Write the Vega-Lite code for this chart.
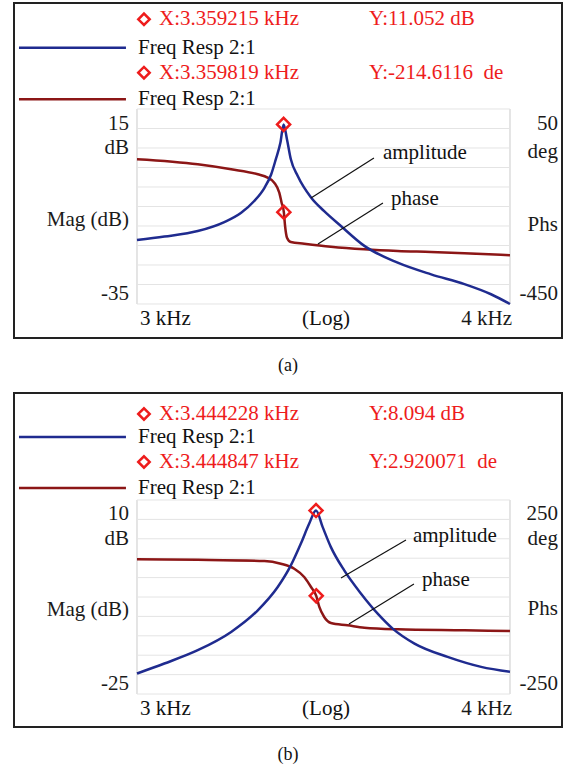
{
  "$schema": "https://vega.github.io/schema/vega-lite/v6.json",
  "padding": {"left": 13, "top": 2, "right": 0, "bottom": 0},
  "spacing": 16,
  "config": {
    "view": {"stroke": "#222", "strokeWidth": 2},
    "axis": {"disable": true},
    "text": {"font": "Liberation Serif, Times New Roman, serif", "fontSize": 21, "baseline": "middle"},
    "title": {"font": "Liberation Serif, Times New Roman, serif", "fontSize": 18, "fontWeight": "normal", "color": "#111", "orient": "bottom", "baseline": "middle", "offset": 19, "anchor": "middle"}
  },
  "datasets": {
    "ampA": [
      {"f": 3000, "v": -18.6}, {"f": 3064, "v": -17.7}, {"f": 3144, "v": -16.3}, {"f": 3209, "v": -14.0},
      {"f": 3251, "v": -11.6}, {"f": 3284, "v": -8.6}, {"f": 3310, "v": -5.2}, {"f": 3327, "v": -1.8},
      {"f": 3339, "v": 2.1}, {"f": 3351, "v": 6.4}, {"f": 3359.2, "v": 11.05}, {"f": 3368, "v": 7.2},
      {"f": 3378, "v": 2.1}, {"f": 3396, "v": -2.2}, {"f": 3431, "v": -7.7}, {"f": 3466, "v": -11.2},
      {"f": 3511, "v": -15.0}, {"f": 3575, "v": -20.1}, {"f": 3668, "v": -24.4}, {"f": 3764, "v": -27.4},
      {"f": 3862, "v": -29.9}, {"f": 3942, "v": -32.5}, {"f": 4000, "v": -35.0}
    ],
    "phA": [
      {"f": 3000, "p": -79}, {"f": 3144, "p": -91.9}, {"f": 3226, "p": -104.7}, {"f": 3293, "p": -117.5},
      {"f": 3318, "p": -126.1}, {"f": 3335, "p": -138.9}, {"f": 3348, "p": -164.6}, {"f": 3354, "p": -190.2},
      {"f": 3359.8, "p": -214.6}, {"f": 3363, "p": -250}, {"f": 3368, "p": -280}, {"f": 3378, "p": -291},
      {"f": 3413, "p": -295.3}, {"f": 3484, "p": -303}, {"f": 3575, "p": -309.7}, {"f": 3668, "p": -314.1},
      {"f": 3764, "p": -316.7}, {"f": 3862, "p": -320}, {"f": 4000, "p": -325.1}
    ],
    "ampB": [
      {"f": 3000, "v": -21.3}, {"f": 3064, "v": -19.5}, {"f": 3144, "v": -17.1}, {"f": 3226, "v": -13.8},
      {"f": 3293, "v": -9.9}, {"f": 3344, "v": -5.7}, {"f": 3378, "v": -1.8}, {"f": 3404, "v": 2.1},
      {"f": 3426, "v": 5.7}, {"f": 3444.2, "v": 8.094}, {"f": 3462, "v": 5.1}, {"f": 3484, "v": 1.5},
      {"f": 3520, "v": -2.7}, {"f": 3566, "v": -6.9}, {"f": 3612, "v": -10.5}, {"f": 3654, "v": -13.2},
      {"f": 3716, "v": -15.9}, {"f": 3812, "v": -18.3}, {"f": 3912, "v": -20.1}, {"f": 4000, "v": -21.0}
    ],
    "phB": [
      {"f": 3000, "p": 97.1}, {"f": 3144, "p": 96}, {"f": 3310, "p": 92.8}, {"f": 3352, "p": 85.9},
      {"f": 3387, "p": 73.0}, {"f": 3413, "p": 51.6}, {"f": 3431, "p": 25.8}, {"f": 3444.8, "p": 2.92},
      {"f": 3453, "p": -25.7}, {"f": 3466, "p": -51.5}, {"f": 3484, "p": -67}, {"f": 3529, "p": -72.9},
      {"f": 3575, "p": -79.1}, {"f": 3668, "p": -83.3}, {"f": 3862, "p": -85.8}, {"f": 4000, "p": -87.6}
    ],
    "gridA": [{"v": 15}, {"v": 10}, {"v": 5}, {"v": 0}, {"v": -5}, {"v": -10}, {"v": -15}, {"v": -20}, {"v": -25}, {"v": -30}, {"v": -35}],
    "gridB": [{"v": 10}, {"v": 6.5}, {"v": 3}, {"v": -0.5}, {"v": -4}, {"v": -7.5}, {"v": -11}, {"v": -14.5}, {"v": -18}, {"v": -21.5}, {"v": -25}],
    "markAmpA": [{"f": 3359.215, "v": 11.052}],
    "markPhA": [{"f": 3359.819, "p": -214.6116}],
    "markAmpB": [{"f": 3444.228, "v": 8.094}],
    "markPhB": [{"f": 3444.847, "p": 2.920071}],
    "leadA": [{"f1": 3601.6, "v1": 2.44, "f2": 3430.9, "v2": -7.82}, {"f1": 3626.7, "v1": -9.10, "f2": 3449.4, "v2": -19.61}],
    "leadB": [{"f1": 3691.7, "v1": 2.78, "f2": 3511.2, "v2": -4.07}, {"f1": 3714.5, "v1": -5.15, "f2": 3532.9, "v2": -12.37}],
    "legBlueA": [{"f1": 2739, "f2": 2974.6, "v": 30.72}],
    "legRedA": [{"f1": 2739, "f2": 2974.6, "v": 17.49}],
    "legBlueB": [{"f1": 2739, "f2": 2974.6, "v": 21.37}],
    "legRedB": [{"f1": 2739, "f2": 2974.6, "v": 12.16}],
    "hdrDiaA": [{"f": 3016.2, "v": 38.0}, {"f": 3016.2, "v": 24.31}],
    "hdrDiaB": [{"f": 3016.2, "v": 25.52}, {"f": 3016.2, "v": 16.86}],
    "redA": [
      {"t": "X:3.359215 kHz", "f": 3051.3, "v": 38.0},
      {"t": "Y:11.052 dB", "f": 3587.8, "v": 38.0},
      {"t": "X:3.359819 kHz", "f": 3051.3, "v": 24.31},
      {"t": "Y:-214.6116\u00a0 de", "f": 3587.8, "v": 24.31}
    ],
    "redB": [
      {"t": "X:3.444228 kHz", "f": 3051.3, "v": 25.52},
      {"t": "Y:8.094 dB", "f": 3587.8, "v": 25.52},
      {"t": "X:3.444847 kHz", "f": 3051.3, "v": 16.86},
      {"t": "Y:2.920071\u00a0 de", "f": 3587.8, "v": 16.86}
    ],
    "leftA": [
      {"t": "Freq Resp 2:1", "f": 3002.3, "v": 30.72},
      {"t": "Freq Resp 2:1", "f": 3002.3, "v": 17.49},
      {"t": "3 kHz", "f": 3006.9, "v": -38.84},
      {"t": "amplitude", "f": 3626.7, "v": 3.72},
      {"t": "phase", "f": 3649.3, "v": -8.08}
    ],
    "leftB": [
      {"t": "Freq Resp 2:1", "f": 3002.3, "v": 21.37},
      {"t": "Freq Resp 2:1", "f": 3002.3, "v": 12.16},
      {"t": "3 kHz", "f": 3006.9, "v": -27.71},
      {"t": "amplitude", "f": 3711.6, "v": 3.51},
      {"t": "phase", "f": 3737.5, "v": -4.43}
    ],
    "rightA": [
      {"t": "15", "f": 2981.5, "v": 11.15},
      {"t": "dB", "f": 2981.5, "v": 5.0},
      {"t": "Mag (dB)", "f": 2981.5, "v": -13.46},
      {"t": "-35", "f": 2981.5, "v": -32.43},
      {"t": "50", "f": 4150.8, "v": 11.15},
      {"t": "deg", "f": 4150.8, "v": 3.97},
      {"t": "Phs", "f": 4150.8, "v": -14.74},
      {"t": "-450", "f": 4150.8, "v": -32.43},
      {"t": "4 kHz", "f": 4006.2, "v": -38.84}
    ],
    "rightB": [
      {"t": "10", "f": 2981.5, "v": 7.47},
      {"t": "dB", "f": 2981.5, "v": 2.96},
      {"t": "Mag (dB)", "f": 2981.5, "v": -9.85},
      {"t": "-25", "f": 2981.5, "v": -23.2},
      {"t": "250", "f": 4150.8, "v": 7.47},
      {"t": "deg", "f": 4150.8, "v": 2.96},
      {"t": "Phs", "f": 4150.8, "v": -9.66},
      {"t": "-250", "f": 4150.8, "v": -23.2},
      {"t": "4 kHz", "f": 4006.2, "v": -27.71}
    ],
    "midA": [{"t": "(Log)", "f": 3470.8, "v": -38.84}],
    "midB": [{"t": "(Log)", "f": 3470.8, "v": -27.71}]
  },
  "vconcat": [
    {
      "width": 548, "height": 335,
      "title": {"text": "(a)"},
      "resolve": {"scale": {"y": "independent"}},
      "layer": [
        {
          "layer": [
            {
              "data": {"name": "gridA"},
              "mark": {"type": "rule", "color": "#e4e4e4", "strokeWidth": 1},
              "encoding": {
                "x": {"datum": 3000, "type": "quantitative", "scale": {"type": "log", "domain": [2728.5, 4163.8], "nice": false}},
                "x2": {"datum": 4000},
                "y": {"field": "v", "type": "quantitative", "scale": {"domain": [-43.72, 42.18], "nice": false, "zero": false}}
              }
            },
            {
              "data": {"name": "gridA"},
              "mark": {"type": "rule", "color": "#e4e4e4", "strokeWidth": 1},
              "encoding": {
                "x": {"datum": 3000, "type": "quantitative", "scale": {"type": "log", "domain": [2728.5, 4163.8], "nice": false}},
                "y": {"datum": 15, "type": "quantitative", "scale": {"domain": [-43.72, 42.18], "nice": false, "zero": false}},
                "y2": {"datum": -35}
              }
            },
            {
              "data": {"name": "gridA"},
              "mark": {"type": "rule", "color": "#e4e4e4", "strokeWidth": 1},
              "encoding": {
                "x": {"datum": 4000, "type": "quantitative", "scale": {"type": "log", "domain": [2728.5, 4163.8], "nice": false}},
                "y": {"datum": 15, "type": "quantitative", "scale": {"domain": [-43.72, 42.18], "nice": false, "zero": false}},
                "y2": {"datum": -35}
              }
            }
          ]
        },
        {
          "layer": [
            {
              "data": {"name": "phA"},
              "mark": {"type": "line", "color": "#8c1616", "strokeWidth": 2.5, "interpolate": "monotone"},
              "encoding": {
                "x": {"field": "f", "type": "quantitative", "scale": {"type": "log", "domain": [2728.5, 4163.8], "nice": false}},
                "y": {"field": "p", "type": "quantitative", "scale": {"domain": [-537.2, 321.8], "nice": false, "zero": false}}
              }
            },
            {
              "data": {"name": "markPhA"},
              "mark": {"type": "point", "shape": "diamond", "filled": false, "color": "#ee1c1c", "strokeWidth": 2.5, "size": 170, "opacity": 1},
              "encoding": {
                "x": {"field": "f", "type": "quantitative", "scale": {"type": "log", "domain": [2728.5, 4163.8], "nice": false}},
                "y": {"field": "p", "type": "quantitative", "scale": {"domain": [-537.2, 321.8], "nice": false, "zero": false}}
              }
            }
          ]
        },
        {
          "encoding": {
            "x": {"field": "f", "type": "quantitative", "scale": {"type": "log", "domain": [2728.5, 4163.8], "nice": false}},
            "y": {"field": "v", "type": "quantitative", "scale": {"domain": [-43.72, 42.18], "nice": false, "zero": false}}
          },
          "layer": [
            {"data": {"name": "ampA"}, "mark": {"type": "line", "color": "#1f2b8f", "strokeWidth": 2.5, "interpolate": "monotone"}},
            {"data": {"name": "markAmpA"}, "mark": {"type": "point", "shape": "diamond", "filled": false, "color": "#ee1c1c", "strokeWidth": 2.5, "size": 170, "opacity": 1}},
            {"data": {"name": "hdrDiaA"}, "mark": {"type": "point", "shape": "diamond", "filled": false, "color": "#ee1c1c", "strokeWidth": 2.5, "size": 130, "opacity": 1}},
            {
              "data": {"name": "leadA"},
              "mark": {"type": "rule", "color": "#111", "strokeWidth": 1.2},
              "encoding": {"x": {"field": "f1", "type": "quantitative"}, "x2": {"field": "f2"}, "y": {"field": "v1", "type": "quantitative"}, "y2": {"field": "v2"}}
            },
            {
              "data": {"name": "legBlueA"},
              "mark": {"type": "rule", "color": "#1f2b8f", "strokeWidth": 2.5},
              "encoding": {"x": {"field": "f1", "type": "quantitative"}, "x2": {"field": "f2"}}
            },
            {
              "data": {"name": "legRedA"},
              "mark": {"type": "rule", "color": "#8c1616", "strokeWidth": 2.5},
              "encoding": {"x": {"field": "f1", "type": "quantitative"}, "x2": {"field": "f2"}}
            },
            {"data": {"name": "redA"}, "mark": {"type": "text", "align": "left", "color": "#ee1c1c"}, "encoding": {"text": {"field": "t"}}},
            {"data": {"name": "leftA"}, "mark": {"type": "text", "align": "left", "color": "#111"}, "encoding": {"text": {"field": "t"}}},
            {"data": {"name": "rightA"}, "mark": {"type": "text", "align": "right", "color": "#1a1a1a"}, "encoding": {"text": {"field": "t"}}},
            {"data": {"name": "midA"}, "mark": {"type": "text", "align": "center", "color": "#111"}, "encoding": {"text": {"field": "t"}}}
          ]
        }
      ]
    },
    {
      "width": 548, "height": 334,
      "title": {"text": "(b)"},
      "resolve": {"scale": {"y": "independent"}},
      "layer": [
        {
          "layer": [
            {
              "data": {"name": "gridB"},
              "mark": {"type": "rule", "color": "#e4e4e4", "strokeWidth": 1},
              "encoding": {
                "x": {"datum": 3000, "type": "quantitative", "scale": {"type": "log", "domain": [2728.5, 4163.8], "nice": false}},
                "x2": {"datum": 4000},
                "y": {"field": "v", "type": "quantitative", "scale": {"domain": [-30.95, 29.30], "nice": false, "zero": false}}
              }
            },
            {
              "data": {"name": "gridB"},
              "mark": {"type": "rule", "color": "#e4e4e4", "strokeWidth": 1},
              "encoding": {
                "x": {"datum": 3000, "type": "quantitative", "scale": {"type": "log", "domain": [2728.5, 4163.8], "nice": false}},
                "y": {"datum": 10, "type": "quantitative", "scale": {"domain": [-30.95, 29.30], "nice": false, "zero": false}},
                "y2": {"datum": -25}
              }
            },
            {
              "data": {"name": "gridB"},
              "mark": {"type": "rule", "color": "#e4e4e4", "strokeWidth": 1},
              "encoding": {
                "x": {"datum": 4000, "type": "quantitative", "scale": {"type": "log", "domain": [2728.5, 4163.8], "nice": false}},
                "y": {"datum": 10, "type": "quantitative", "scale": {"domain": [-30.95, 29.30], "nice": false, "zero": false}},
                "y2": {"datum": -25}
              }
            }
          ]
        },
        {
          "layer": [
            {
              "data": {"name": "phB"},
              "mark": {"type": "line", "color": "#8c1616", "strokeWidth": 2.5, "interpolate": "monotone"},
              "encoding": {
                "x": {"field": "f", "type": "quantitative", "scale": {"type": "log", "domain": [2728.5, 4163.8], "nice": false}},
                "y": {"field": "p", "type": "quantitative", "scale": {"domain": [-335.05, 525.8], "nice": false, "zero": false}}
              }
            },
            {
              "data": {"name": "markPhB"},
              "mark": {"type": "point", "shape": "diamond", "filled": false, "color": "#ee1c1c", "strokeWidth": 2.5, "size": 170, "opacity": 1},
              "encoding": {
                "x": {"field": "f", "type": "quantitative", "scale": {"type": "log", "domain": [2728.5, 4163.8], "nice": false}},
                "y": {"field": "p", "type": "quantitative", "scale": {"domain": [-335.05, 525.8], "nice": false, "zero": false}}
              }
            }
          ]
        },
        {
          "encoding": {
            "x": {"field": "f", "type": "quantitative", "scale": {"type": "log", "domain": [2728.5, 4163.8], "nice": false}},
            "y": {"field": "v", "type": "quantitative", "scale": {"domain": [-30.95, 29.30], "nice": false, "zero": false}}
          },
          "layer": [
            {"data": {"name": "ampB"}, "mark": {"type": "line", "color": "#1f2b8f", "strokeWidth": 2.5, "interpolate": "monotone"}},
            {"data": {"name": "markAmpB"}, "mark": {"type": "point", "shape": "diamond", "filled": false, "color": "#ee1c1c", "strokeWidth": 2.5, "size": 170, "opacity": 1}},
            {"data": {"name": "hdrDiaB"}, "mark": {"type": "point", "shape": "diamond", "filled": false, "color": "#ee1c1c", "strokeWidth": 2.5, "size": 130, "opacity": 1}},
            {
              "data": {"name": "leadB"},
              "mark": {"type": "rule", "color": "#111", "strokeWidth": 1.2},
              "encoding": {"x": {"field": "f1", "type": "quantitative"}, "x2": {"field": "f2"}, "y": {"field": "v1", "type": "quantitative"}, "y2": {"field": "v2"}}
            },
            {
              "data": {"name": "legBlueB"},
              "mark": {"type": "rule", "color": "#1f2b8f", "strokeWidth": 2.5},
              "encoding": {"x": {"field": "f1", "type": "quantitative"}, "x2": {"field": "f2"}}
            },
            {
              "data": {"name": "legRedB"},
              "mark": {"type": "rule", "color": "#8c1616", "strokeWidth": 2.5},
              "encoding": {"x": {"field": "f1", "type": "quantitative"}, "x2": {"field": "f2"}}
            },
            {"data": {"name": "redB"}, "mark": {"type": "text", "align": "left", "color": "#ee1c1c"}, "encoding": {"text": {"field": "t"}}},
            {"data": {"name": "leftB"}, "mark": {"type": "text", "align": "left", "color": "#111"}, "encoding": {"text": {"field": "t"}}},
            {"data": {"name": "rightB"}, "mark": {"type": "text", "align": "right", "color": "#1a1a1a"}, "encoding": {"text": {"field": "t"}}},
            {"data": {"name": "midB"}, "mark": {"type": "text", "align": "center", "color": "#111"}, "encoding": {"text": {"field": "t"}}}
          ]
        }
      ]
    }
  ]
}
